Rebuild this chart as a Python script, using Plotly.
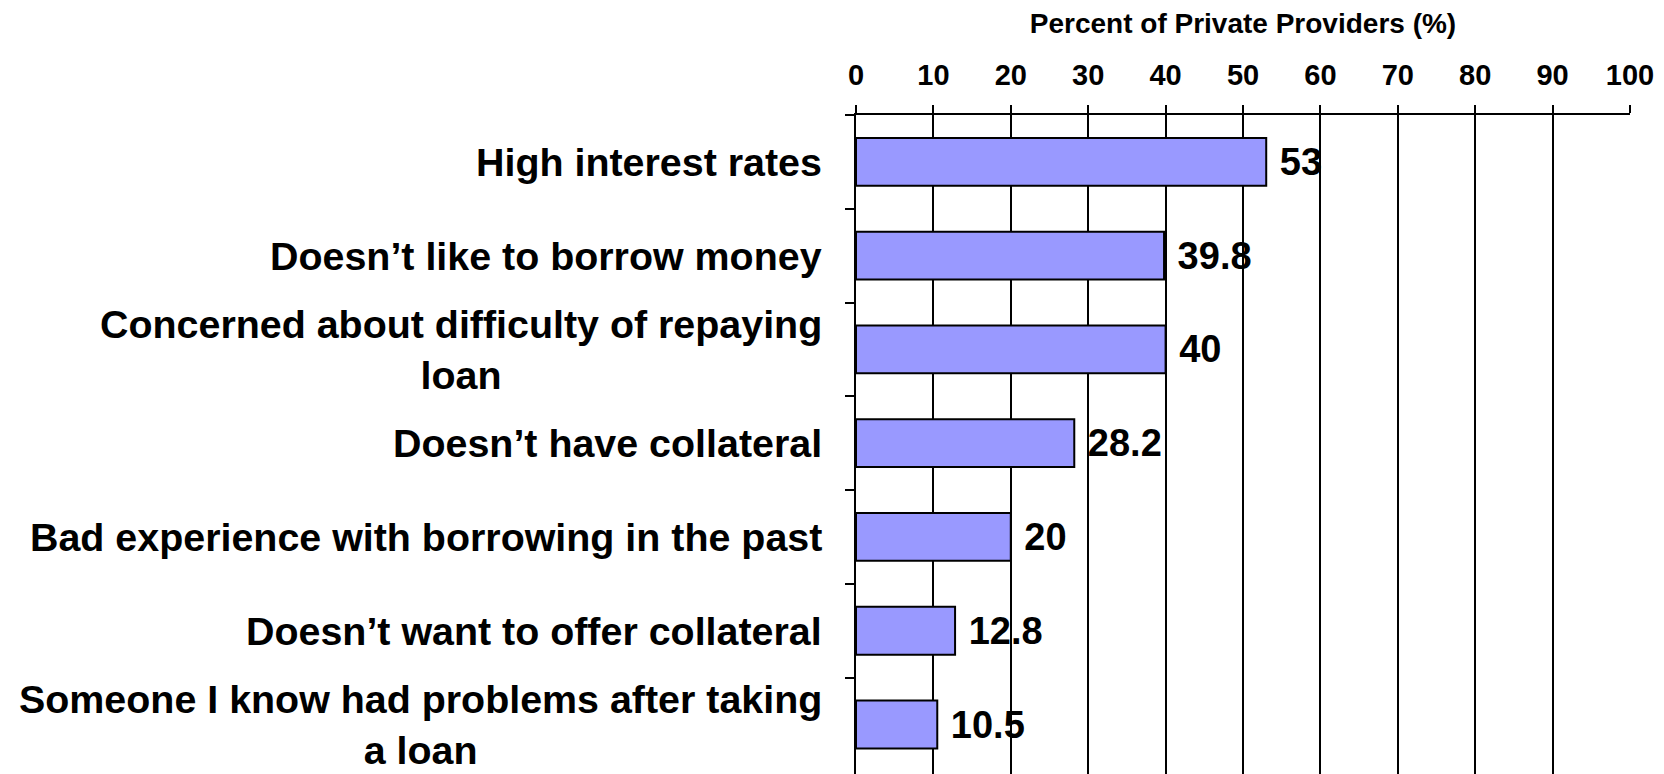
import plotly.graph_objects as go

categories = [
    "High interest rates",
    "Doesn\u2019t like to borrow money",
    "Concerned about difficulty of repaying<br>loan",
    "Doesn\u2019t have collateral",
    "Bad experience with borrowing in the past",
    "Doesn\u2019t want to offer collateral",
    "Someone I know had problems after taking<br>a loan",
]
values = [53, 39.8, 40, 28.2, 20, 12.8, 10.5]
value_labels = ["53", "39.8", "40", "28.2", "20", "12.8", "10.5"]
x_ticks = [0, 10, 20, 30, 40, 50, 60, 70, 80, 90, 100]
x_title = "Percent of Private Providers (%)"

FONT = "Arial, Liberation Sans, sans-serif"

fig = go.Figure()
fig.add_trace(go.Bar(
    x=values,
    y=categories,
    orientation="h",
    width=0.51,
    marker=dict(color="#9999FF", line=dict(color="black", width=2)),
    text=[" " + t for t in value_labels],
    textposition="outside",
    textfont=dict(family=FONT, size=38, color="black", weight="bold"),
    cliponaxis=False,
    constraintext="none",
))

for c in categories:
    fig.add_annotation(
        x=0, xref="paper", y=c, yref="y",
        text=c, showarrow=False,
        xanchor="right", yanchor="middle", align="center",
        xshift=-32,
        font=dict(family=FONT, size=39.4, color="black", weight="bold"),
    )

fig.update_xaxes(
    side="top",
    range=[0, 100],
    tickvals=x_ticks,
    automargin=False,
    ticks="outside", ticklen=8, tickwidth=2, tickcolor="black",
    ticklabelstandoff=8,
    showgrid=True, gridcolor="black", gridwidth=2,
    showline=True, linecolor="black", linewidth=2,
    zeroline=False,
    tickfont=dict(family=FONT, size=29, color="black", weight="bold"),
    title=dict(text=x_title, standoff=22,
               font=dict(family=FONT, size=28, color="black", weight="bold")),
)
fig.update_yaxes(
    autorange="reversed",
    automargin=False,
    showticklabels=False,
    ticks="outside", ticklen=9, tickwidth=2, tickcolor="black",
    tickson="boundaries",
    showgrid=False,
    showline=True, linecolor="black", linewidth=2,
)

# page body has an 8px default margin, so the figure is sized to fit the window
fig.update_layout(
    width=1656, height=766,
    margin=dict(l=848, r=34, t=107, b=0),
    plot_bgcolor="white", paper_bgcolor="white",
    showlegend=False,
)

fig.write_html("out.html")
